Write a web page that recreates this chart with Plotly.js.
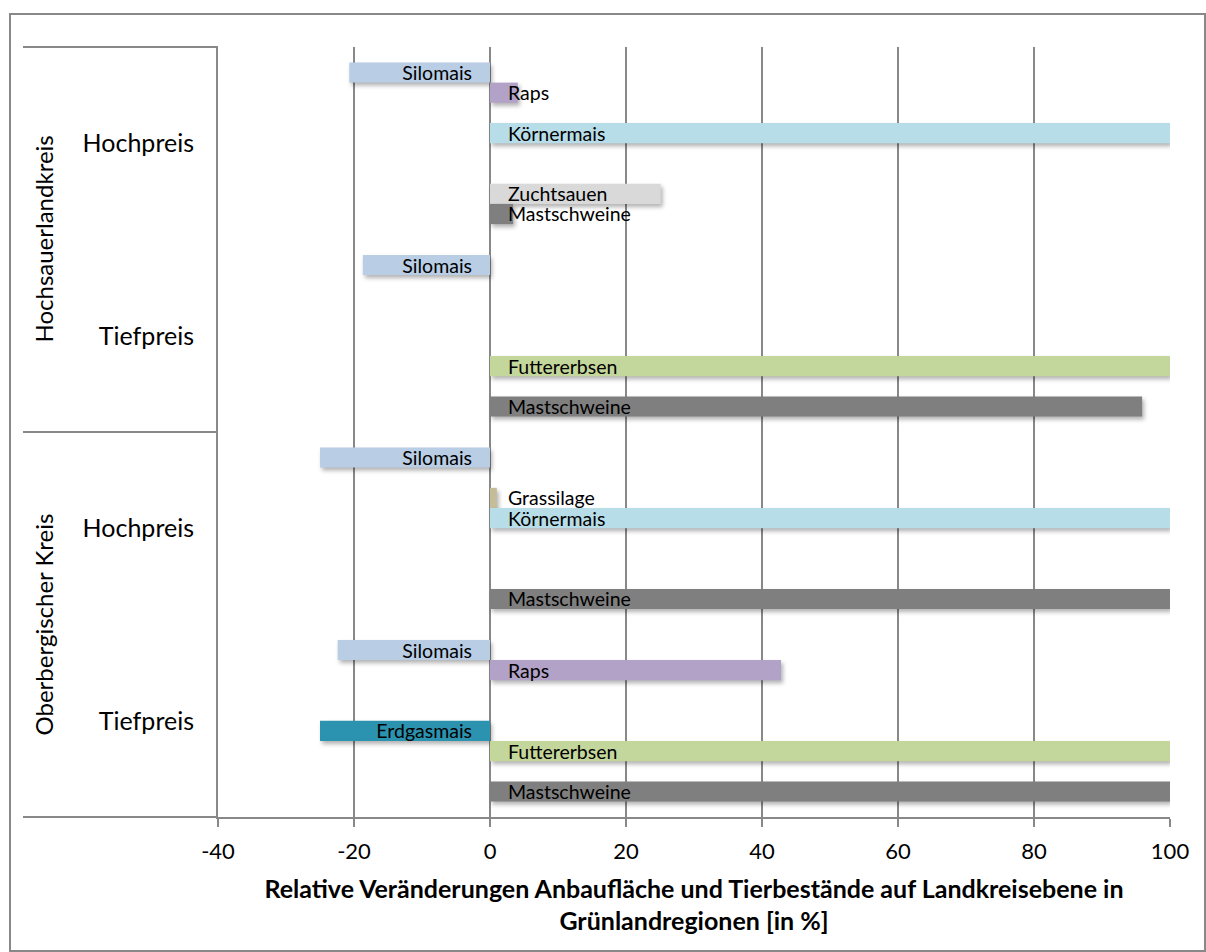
<!DOCTYPE html>
<html>
<head>
<meta charset="utf-8">
<script src="https://cdn.plot.ly/plotly-3.0.1.min.js"></script>
<style>
  html, body { margin: 0; padding: 0; background: #ffffff; }
  #chart { width: 1206px; height: 952px; }
  .barlayer .point path { filter: drop-shadow(2px 3px 2px rgba(0,0,0,0.30)); }
</style>
</head>
<body>
<div id="chart"></div>
<script>
// ---- data ----
var regions   = ["Hochsauerlandkreis", "Hochsauerlandkreis", "Oberbergischer Kreis", "Oberbergischer Kreis"];
var scenarios = ["Hochpreis", "Tiefpreis", "Hochpreis", "Tiefpreis"];
var regionLabels = ["Hochsauerlandkreis", "Oberbergischer Kreis"];

var silomais     = [-20.7, -18.7, -25.0, -22.4];
var raps         = [4.1, null, null, 42.8];
var grassilage   = [null, null, 1.0, null];
var koernermais  = [100, null, 100, null];
var erdgasmais   = [null, null, null, -25.0];
var futtererbsen = [null, 100, null, 100];
var zuchtsauen   = [25.1, null, null, null];
var mastschweine = [3.4, 95.9, 100, 100];

var seriesNames  = ["Silomais", "Raps", "Grassilage", "Körnermais", "Erdgasmais", "Futtererbsen", "Zuchtsauen", "Mastschweine"];
var seriesValues = [silomais, raps, grassilage, koernermais, erdgasmais, futtererbsen, zuchtsauen, mastschweine];
var seriesColors = ["#b9cde5", "#b3a2c7", "#c4bd97", "#b7dde8", "#2b93b0", "#c3d69b", "#d9d9d9", "#7f7f7f"];

var xTickVals = [-40, -20, 0, 20, 40, 60, 80, 100];

// ---- build ----
var catKeys = regions.map(function (r, i) { return r + " | " + scenarios[i]; });
var PAD = "\u00a0\u00a0\u00a0";
var FONT = "Lato, 'Open Sans', sans-serif";

var traces = seriesNames.map(function (name, k) {
  var vals = seriesValues[k];
  return {
    type: "bar",
    orientation: "h",
    name: name,
    y: catKeys,
    x: vals,
    marker: { color: seriesColors[k], line: { width: 0 } },
    text: vals.map(function (v) { return v === null ? "" : (v < 0 ? name + PAD : PAD + name); }),
    textposition: "inside",
    insidetextanchor: "start",
    textangle: 0,
    constraintext: "none",
    cliponaxis: false,
    textfont: { family: FONT, size: 19.5, color: "#000000" },
    hoverinfo: "x+name"
  };
});

var L = 218, R = 1170, T = 47, B = 817, W = 1206, H = 952;
function px(x) { return (x - L) / (R - L); }
function py(y) { return (B - y) / (B - T); }
var lineCol = "#888888";

var layout = {
  width: W, height: H,
  margin: { l: L, r: W - R, t: T, b: H - B, pad: 0 },
  paper_bgcolor: "#ffffff",
  plot_bgcolor: "#ffffff",
  showlegend: false,
  barmode: "group",
  bargap: 0.16,
  bargroupgap: 0,
  font: { family: FONT, color: "#000000" },
  xaxis: {
    range: [-40, 100],
    tickvals: xTickVals,
    ticktext: xTickVals.map(String),
    showgrid: true,
    gridcolor: lineCol,
    gridwidth: 2,
    zeroline: false,
    showline: true,
    linecolor: lineCol,
    linewidth: 2,
    ticks: "outside",
    ticklen: 8,
    tickwidth: 2,
    tickcolor: lineCol,
    ticklabelstandoff: 6,
    tickfont: { family: FONT, size: 22, color: "#000000" },
    title: {
      text: "<b>Relative Veränderungen Anbaufläche und Tierbestände auf Landkreisebene in<br>Grünlandregionen [in %]</b>",
      font: { family: FONT, size: 25, color: "#000000" },
      standoff: 17
    }
  },
  yaxis: {
    type: "category",
    categoryorder: "array",
    categoryarray: catKeys,
    tickvals: catKeys,
    ticktext: scenarios,
    range: [3.5, -0.5],
    showgrid: false,
    zeroline: false,
    showline: true,
    linecolor: lineCol,
    linewidth: 2,
    ticks: "",
    ticklabelstandoff: 17,
    tickfont: { family: FONT, size: 25, color: "#000000" }
  },
  shapes: [
    { type: "line", xref: "paper", yref: "paper", x0: px(23), x1: 0, y0: 1, y1: 1, line: { color: lineCol, width: 2 } },
    { type: "line", xref: "paper", yref: "paper", x0: px(23), x1: 0, y0: 0.5, y1: 0.5, line: { color: lineCol, width: 2 } },
    { type: "line", xref: "paper", yref: "paper", x0: px(23), x1: 0, y0: 0, y1: 0, line: { color: lineCol, width: 2 } },
    { type: "rect", xref: "paper", yref: "paper", x0: px(10), x1: px(1205), y0: py(951), y1: py(14), line: { color: lineCol, width: 2 }, fillcolor: "rgba(0,0,0,0)" }
  ],
  annotations: [
    { xref: "paper", yref: "paper", x: px(43), y: 0.75, text: regionLabels[0], textangle: -90, showarrow: false, font: { family: FONT, size: 24, color: "#000000" }, xanchor: "center", yanchor: "middle" },
    { xref: "paper", yref: "paper", x: px(43), y: 0.25, text: regionLabels[1], textangle: -90, showarrow: false, font: { family: FONT, size: 24, color: "#000000" }, xanchor: "center", yanchor: "middle" }
  ]
};

Plotly.newPlot("chart", traces, layout, { displayModeBar: false, responsive: false });
</script>
</body>
</html>
